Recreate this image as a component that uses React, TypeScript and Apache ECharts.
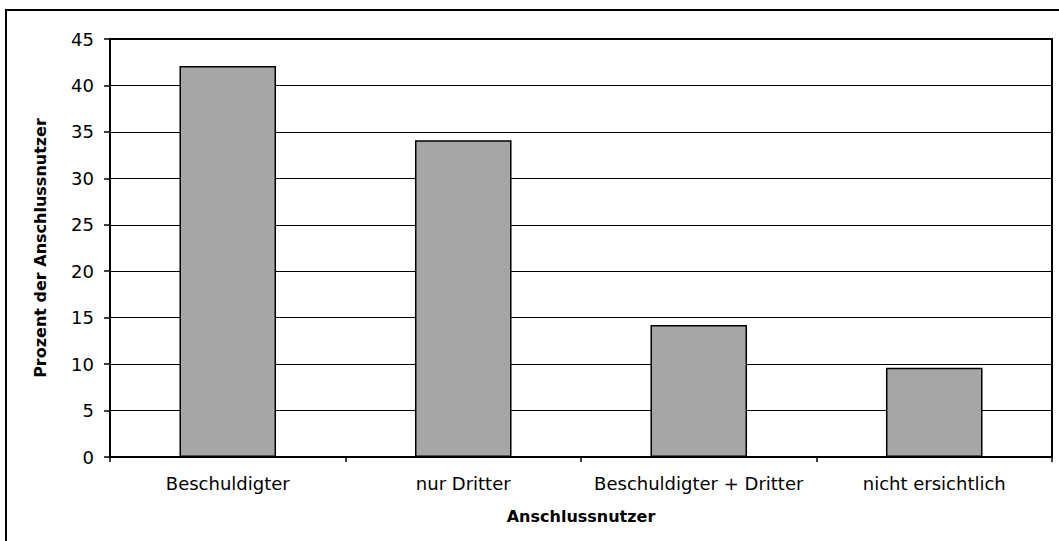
import React, { useEffect, useRef } from "react";
import * as echarts from "echarts";

const categories = ["Beschuldigter", "nur Dritter", "Beschuldigter + Dritter", "nicht ersichtlich"];
const values = [42.1, 34.1, 14.2, 9.6];
const yTicks = { min: 0, max: 45, interval: 5 };
const xAxisName = "Anschlussnutzer";
const yAxisName = "Prozent der Anschlussnutzer";

const FONT = "DejaVu Sans";

export default function App() {
  const ref = useRef<HTMLDivElement>(null);
  useEffect(() => {
    document.body.style.margin = "0";
    const chart = echarts.init(ref.current!, null, { renderer: "svg" });
    chart.setOption({
      animation: false,
      backgroundColor: "#ffffff",
      graphic: [
        {
          type: "rect",
          shape: { x: 6, y: 10, width: 1070, height: 545 },
          style: { fill: "none", stroke: "#000", lineWidth: 2 },
          silent: true,
          z: 100,
        },
      ],
      grid: {
        left: 110,
        right: 7,
        top: 39,
        bottom: 84,
        show: true,
        borderColor: "#000",
        borderWidth: 2,
        backgroundColor: "#fff",
      },
      xAxis: {
        type: "category",
        data: categories,
        boundaryGap: true,
        name: xAxisName,
        nameLocation: "middle",
        nameGap: 51,
        nameTextStyle: { fontFamily: FONT, fontWeight: "bold", fontSize: 16, color: "#000" },
        axisLine: { show: true, lineStyle: { color: "#000", width: 2 } },
        axisTick: { show: true, interval: 0, length: 5, alignWithLabel: false, lineStyle: { color: "#000", width: 1.5 } },
        axisLabel: { interval: 0, margin: 17, fontFamily: FONT, fontSize: 18, color: "#000" },
        splitLine: { show: false },
      },
      yAxis: {
        type: "value",
        min: yTicks.min,
        max: yTicks.max,
        interval: yTicks.interval,
        name: yAxisName,
        nameLocation: "middle",
        nameGap: 62,
        nameRotate: 90,
        nameTextStyle: { fontFamily: FONT, fontWeight: "bold", fontSize: 16, color: "#000" },
        axisLine: { show: true, lineStyle: { color: "#000", width: 2 } },
        axisTick: { show: true, length: 6, lineStyle: { color: "#000", width: 1.5 } },
        axisLabel: { margin: 16, fontFamily: FONT, fontSize: 18, color: "#000" },
        splitLine: { show: true, lineStyle: { color: "#000", width: 1 } },
      },
      series: [
        {
          type: "bar",
          data: values,
          barWidth: "41%",
          itemStyle: { color: "#A6A6A6", borderColor: "#000", borderWidth: 1.5 },
        },
      ],
    });
    return () => chart.dispose();
  }, []);
  return <div ref={ref} style={{ position: "absolute", left: 0, top: 0, width: 1059, height: 541 }} />;
}
